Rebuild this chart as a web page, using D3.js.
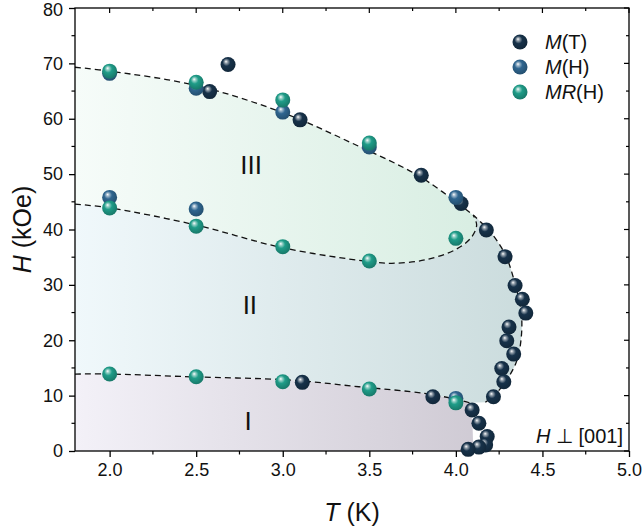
<!DOCTYPE html>
<html>
<head>
<meta charset="utf-8">
<script src="https://cdn.jsdelivr.net/npm/d3@7"></script>
<style>
  html, body { margin: 0; padding: 0; background: #fff; }
  svg { display: block; font-family: "Liberation Sans", Arial, sans-serif; }
</style>
</head>
<body>
<svg id="chart" width="642" height="529"></svg>
<script>
// ---------------- data ----------------
const xTicks = [2.0, 2.5, 3.0, 3.5, 4.0, 4.5, 5.0];
const yTicks = [0, 10, 20, 30, 40, 50, 60, 70, 80];

// M(T) points
const mtT = [2.684, 2.578, 3.10, 3.80, 4.03, 4.176, 4.284, 4.342, 4.384, 4.404, 4.307, 4.294, 4.334, 4.265, 4.277, 4.217, 3.867, 3.113, 4.094, 4.133, 4.181, 4.172, 4.133, 4.071];
const mtH = [69.8, 64.9, 59.8, 49.8, 44.7, 39.9, 35.1, 29.9, 27.4, 24.9, 22.4, 19.9, 17.5, 14.9, 12.5, 9.8, 9.8, 12.4, 7.4, 5.0, 2.6, 1.1, 0.7, 0.3];
// M(H) points
const mhT = [2.0, 2.5, 3.0, 3.5, 4.0, 2.0, 2.5, 4.0];
const mhH = [68.2, 65.5, 61.2, 54.9, 45.8, 45.8, 43.7, 9.5];
// MR(H) points
const mrT = [2.0, 2.5, 3.0, 3.5, 2.0, 2.5, 3.0, 3.5, 4.0, 2.0, 2.5, 3.0, 3.5, 4.0];
const mrH = [68.6, 66.6, 63.4, 55.6, 43.9, 40.6, 36.9, 34.3, 38.4, 13.9, 13.4, 12.5, 11.2, 8.7];

// phase boundaries [T, H]
const topArc = [[1.8, 69.3], [2.0, 68.6], [2.5, 66.0], [3.0, 61.1], [3.4, 55.6], [3.8, 49.4], [4.10, 42.6]];
const rightArc = [[4.10, 42.6], [4.19, 39.9], [4.26, 36.9], [4.30, 34.4], [4.346, 29.7], [4.378, 25.0], [4.376, 20.0], [4.346, 15.8], [4.25, 11.0], [4.17, 8.8]];
const midArc = [[1.8, 44.6], [2.0, 43.9], [2.5, 40.8], [3.0, 36.7], [3.5, 34.2], [3.63, 33.9], [3.82, 34.5], [4.0, 36.4], [4.09, 38.6], [4.12, 40.8], [4.10, 42.6]];
const lowArc = [[1.8, 13.9], [2.0, 13.9], [2.47, 13.4], [3.05, 12.8], [3.44, 11.6], [3.82, 10.4], [4.02, 9.2], [4.08, 8.7]];
const edgeI = [[4.08, 8.7], [4.095, 5.0], [4.10, 0]];

const regionLabels = ["III", "II", "I"];
const regionLabelPos = [[2.817, 50.0], [2.81, 24.7], [2.80, 3.8]];

const legendNames = [["M", "(T)"], ["M", "(H)"], ["MR", "(H)"]];
const colors = ["#17324a", "#2f6690", "#1f9c88"];

// ---------------- layout ----------------
const svg = d3.select("#chart");
const L = 75, R = 629, T0 = 8, B = 451;
const x = d3.scaleLinear().domain([1.8, 5.0]).range([L, R]);
const y = d3.scaleLinear().domain([0, 80]).range([B, T0]);

const defs = svg.append("defs");
defs.append("clipPath").attr("id", "clip").append("rect")
  .attr("x", L).attr("y", T0).attr("width", R - L).attr("height", B - T0);

function linGrad(id, c0, c1) {
  const g = defs.append("linearGradient").attr("id", id)
    .attr("gradientUnits", "userSpaceOnUse")
    .attr("x1", x(1.8)).attr("x2", x(4.4)).attr("y1", 0).attr("y2", 0);
  g.append("stop").attr("offset", 0).attr("stop-color", c0);
  g.append("stop").attr("offset", 1).attr("stop-color", c1);
}
linGrad("gIII", "#f6fcf9", "#d5ece0");
linGrad("gII", "#f0f8fb", "#cbdcdd");
linGrad("gI", "#f3f1f8", "#cbc6d0");

colors.forEach((c, i) => {
  const g = defs.append("radialGradient").attr("id", "ball" + i)
    .attr("cx", 0.45).attr("cy", 0.42).attr("r", 0.62)
    .attr("fx", 0.36).attr("fy", 0.3);
  const base = d3.color(c);
  g.append("stop").attr("offset", 0).attr("stop-color", "#ffffff");
  g.append("stop").attr("offset", 0.16).attr("stop-color", d3.interpolateRgb(c, "#ffffff")(0.55));
  g.append("stop").attr("offset", 0.42).attr("stop-color", c);
  g.append("stop").attr("offset", 1).attr("stop-color", base.darker(0.8).formatHex());
});

const line = d3.line().x(d => x(d[0])).y(d => y(d[1])).curve(d3.curveCatmullRom.alpha(0.5));
const cont = s => s.replace(/^M/, "L");

const plot = svg.append("g").attr("clip-path", "url(#clip)");

const pI = line(lowArc) + cont(line(edgeI)) + "L" + x(1.8) + "," + y(0) + "Z";
const pII = line(midArc) + cont(line(rightArc)) + cont(line(lowArc.slice().reverse())) + "Z";
const pIII = line(topArc) + cont(line(midArc.slice().reverse())) + "Z";

plot.append("path").attr("d", pI).attr("fill", "url(#gI)");
plot.append("path").attr("d", pII).attr("fill", "url(#gII)");
plot.append("path").attr("d", pIII).attr("fill", "url(#gIII)");

const dashStyle = sel => sel.attr("fill", "none").attr("stroke", "#111")
  .attr("stroke-width", 1.3).attr("stroke-dasharray", "6,4");
plot.append("path").attr("d", line(topArc) + cont(line(rightArc))).call(dashStyle);
plot.append("path").attr("d", line(midArc)).call(dashStyle);
plot.append("path").attr("d", line(lowArc)).call(dashStyle);

svg.selectAll("text.region").data(regionLabels).join("text")
  .attr("class", "region")
  .attr("x", (d, i) => x(regionLabelPos[i][0]))
  .attr("y", (d, i) => y(regionLabelPos[i][1]))
  .attr("text-anchor", "middle")
  .attr("font-size", 26)
  .attr("fill", "#111")
  .text(d => d);

// ---------------- axes ----------------
const axG = svg.append("g");
const minorX = d3.range(1.75, 5.01, 0.25).filter(v => v >= 1.8 && Math.abs(v * 2 - Math.round(v * 2)) > 1e-6);
const minorY = d3.range(5, 80, 10);

const bottom = axG.append("g").attr("transform", `translate(0,${B})`)
  .call(d3.axisBottom(x).tickValues(xTicks).tickFormat(d3.format(".1f")).tickSize(6).tickPadding(6));
bottom.selectAll(".tick line").attr("stroke-width", 1.3);
bottom.select(".domain").remove();
bottom.selectAll("text").attr("font-size", 18).attr("fill", "#111").attr("font-family", "Liberation Sans, Arial, sans-serif");

const left = axG.append("g").attr("transform", `translate(${L},0)`)
  .call(d3.axisLeft(y).tickValues(yTicks).tickFormat(d3.format("d")).tickSize(6).tickPadding(6));
left.selectAll(".tick line").attr("stroke-width", 1.3);
left.select(".domain").remove();
left.selectAll("text").attr("font-size", 18).attr("fill", "#111").attr("font-family", "Liberation Sans, Arial, sans-serif")
  .attr("dy", d => d === 80 ? "0.42em" : "0.32em");

axG.selectAll("line.mxb").data(minorX).join("line").attr("class", "mxb")
  .attr("x1", d => x(d)).attr("x2", d => x(d)).attr("y1", B).attr("y2", B + 3.5)
  .attr("stroke", "#000").attr("stroke-width", 1.2);
axG.selectAll("line.myl").data(minorY).join("line").attr("class", "myl")
  .attr("y1", d => y(d)).attr("y2", d => y(d)).attr("x1", L).attr("x2", L - 3.5)
  .attr("stroke", "#000").attr("stroke-width", 1.2);
axG.selectAll("line.tt").data(xTicks).join("line").attr("class", "tt")
  .attr("x1", d => x(d)).attr("x2", d => x(d)).attr("y1", T0).attr("y2", T0 + 5)
  .attr("stroke", "#000").attr("stroke-width", 1.2);
axG.selectAll("line.ttm").data(minorX).join("line").attr("class", "ttm")
  .attr("x1", d => x(d)).attr("x2", d => x(d)).attr("y1", T0).attr("y2", T0 + 3)
  .attr("stroke", "#000").attr("stroke-width", 1.2);
axG.selectAll("line.rt").data(yTicks).join("line").attr("class", "rt")
  .attr("y1", d => y(d)).attr("y2", d => y(d)).attr("x1", R).attr("x2", R - 5)
  .attr("stroke", "#000").attr("stroke-width", 1.2);
axG.selectAll("line.rtm").data(minorY).join("line").attr("class", "rtm")
  .attr("y1", d => y(d)).attr("y2", d => y(d)).attr("x1", R).attr("x2", R - 3)
  .attr("stroke", "#000").attr("stroke-width", 1.2);

svg.append("rect").attr("x", L).attr("y", T0).attr("width", R - L).attr("height", B - T0)
  .attr("fill", "none").attr("stroke", "#000").attr("stroke-width", 1.3);

const xt = svg.append("text").attr("x", (L + R) / 2).attr("y", 521)
  .attr("text-anchor", "middle").attr("font-size", 25).attr("fill", "#111");
xt.append("tspan").attr("font-style", "italic").text("T");
xt.append("tspan").text(" (K)");

const yt = svg.append("text").attr("transform", `translate(31,${(T0 + B) / 2}) rotate(-90)`)
  .attr("text-anchor", "middle").attr("font-size", 25).attr("fill", "#111");
yt.append("tspan").attr("font-style", "italic").text("H");
yt.append("tspan").text(" (kOe)");

const ann = svg.append("text").attr("x", 623).attr("y", 443)
  .attr("text-anchor", "end").attr("font-size", 20).attr("fill", "#111");
ann.append("tspan").attr("font-style", "italic").text("H");
ann.append("tspan").text(" \u22A5 [001]");

// ---------------- markers ----------------
const rr = 7.5;
const series = [
  { T: mtT, H: mtH, c: 0 },
  { T: mhT, H: mhH, c: 1 },
  { T: mrT, H: mrH, c: 2 }
];
const mk = svg.append("g");
series.forEach(s => {
  mk.append("g").selectAll("circle").data(s.T.map((t, i) => [t, s.H[i]])).join("circle")
    .attr("cx", d => x(d[0])).attr("cy", d => y(d[1])).attr("r", rr)
    .attr("fill", `url(#ball${s.c})`);
});

const lg = svg.append("g");
legendNames.forEach((n, i) => {
  const yy = 42 + i * 25;
  lg.append("circle").attr("cx", 520).attr("cy", yy).attr("r", rr).attr("fill", `url(#ball${i})`);
  const t = lg.append("text").attr("x", 545).attr("y", yy + 7).attr("font-size", 20).attr("fill", "#111");
  t.append("tspan").attr("font-style", "italic").text(n[0]);
  t.append("tspan").text(n[1]);
});
</script>
</body>
</html>
